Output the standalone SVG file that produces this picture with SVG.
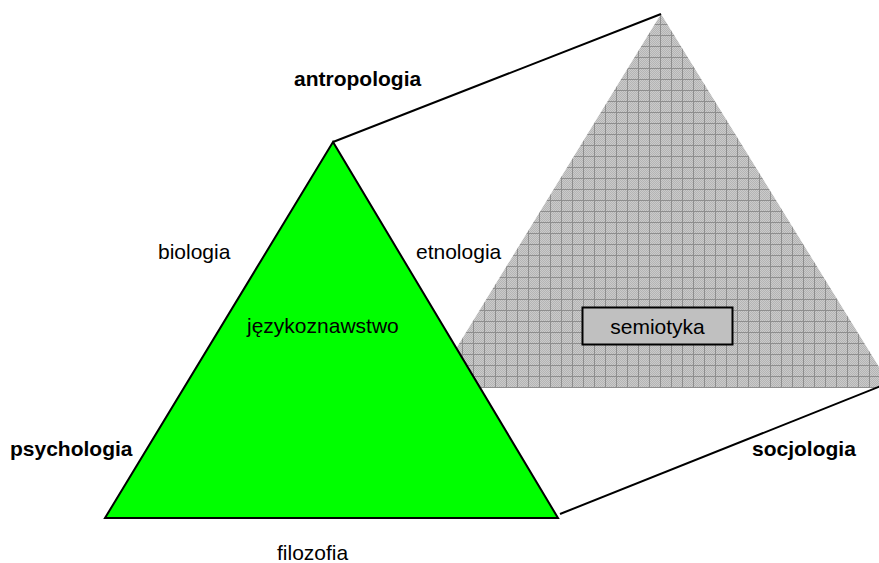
<svg xmlns="http://www.w3.org/2000/svg" width="879" height="563" viewBox="0 0 879 563">
  <style>
    .lbl { font-family: "Liberation Sans", Arial, sans-serif; font-size: 21px; fill: #000; }
    .bold { font-weight: bold; }
    .edge { stroke: #000; stroke-width: 2; fill: none; }
  </style>
  <defs>
    <!-- fine dither of the grey field -->
    <pattern id="fine" width="2" height="2" patternUnits="userSpaceOnUse">
      <rect width="2" height="2" fill="#cbcbcb"/>
      <rect x="0" y="0" width="1" height="1" fill="#b4b4b4"/>
      <rect x="1" y="1" width="1" height="1" fill="#b4b4b4"/>
    </pattern>
    <!-- grid laid over the dither -->
    <pattern id="grid" x="0" y="2" width="11" height="11" patternUnits="userSpaceOnUse">
      <rect width="11" height="11" fill="url(#fine)"/>
      <rect x="0" y="0" width="11" height="1" fill="#8e8e8e"/>
      <rect x="0" y="0" width="1" height="11" fill="#8e8e8e"/>
    </pattern>
  </defs>

  <rect width="879" height="563" fill="#fff"/>

  <g id="semiotics-field">
    <polygon points="661,14 432,388 892,388" fill="url(#grid)"/>
  </g>

  <g id="connectors">
    <line class="edge" x1="333" y1="142" x2="661" y2="14"/>
    <line class="edge" x1="560" y1="514" x2="881" y2="386"/>
  </g>

  <g id="linguistics">
    <polygon points="333,142 105,518 558,518" fill="#00ff00" stroke="#000" stroke-width="2" stroke-linejoin="miter"/>
    <text class="lbl" x="247" y="333">językoznawstwo</text>
  </g>

  <g id="semiotyka">
    <rect x="582.5" y="307.5" width="150" height="37" fill="#c0c0c0" stroke="#000" stroke-width="2"/>
    <text class="lbl" x="657.5" y="334" text-anchor="middle">semiotyka</text>
  </g>

  <g id="antropologia"><text class="lbl bold" x="294" y="86">antropologia</text></g>
  <g id="psychologia"><text class="lbl bold" x="10" y="456">psychologia</text></g>
  <g id="socjologia"><text class="lbl bold" x="752" y="456">socjologia</text></g>
  <g id="biologia"><text class="lbl" x="158" y="259">biologia</text></g>
  <g id="etnologia"><text class="lbl" x="416" y="259">etnologia</text></g>
  <g id="filozofia"><text class="lbl" x="277" y="560">filozofia</text></g>
</svg>
